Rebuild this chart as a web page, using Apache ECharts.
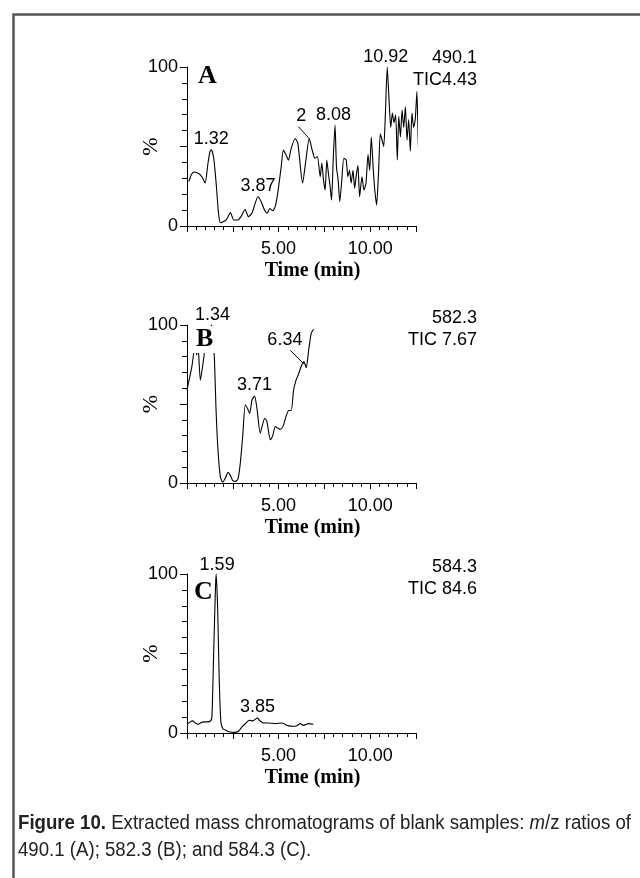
<!DOCTYPE html>
<html><head><meta charset="utf-8">
<script src="https://cdn.jsdelivr.net/npm/echarts@6/dist/echarts.min.js"></script>
<style>html,body{margin:0;padding:0;background:#fff}#c{width:640px;height:878px}</style>
</head><body><div id="c"></div>
<script>
// ---------- data ----------
const timesA = [0.10,0.23,0.37,0.55,0.74,0.86,0.99,1.14,1.25,1.33,1.46,1.59,1.72,1.83,1.97,2.14,2.37,2.55,2.77,2.95,3.17,3.35,3.54,3.72,3.87,4.05,4.23,4.37,4.52,4.68,4.81,4.95,5.14,5.26,5.41,5.54,5.68,5.90,6.05,6.31,6.49,6.67,6.85,6.98,7.12,7.27,7.36,7.45,7.54,7.63,7.72,7.81,7.89,7.98,8.08,8.16,8.25,8.34,8.45,8.56,8.69,8.78,8.87,8.96,9.06,9.15,9.24,9.33,9.42,9.55,9.66,9.77,9.88,9.97,10.06,10.17,10.26,10.35,10.46,10.55,10.65,10.74,10.83,10.93,11.03,11.12,11.21,11.30,11.39,11.48,11.56,11.65,11.74,11.83,11.92,12.01,12.10,12.19,12.28,12.37,12.46,12.55,12.62,12.66];
const valuesA = [28,32,34,33.5,32,30,27,39,46.7,48,42.5,27,8,2,2.7,3.8,8.4,3.8,3.8,5.9,10.5,5.9,8,14.2,18.4,15.3,10,8,11,9.6,12,20.5,37,47.7,44.6,41.4,48.5,55,52,27,41.5,55,47,42.6,43.7,31,39.6,29,22.6,41.5,33,25,16.4,41.5,63.5,37,29,15.3,29,42.6,41.5,31,35,27,35,23.7,32,38,18.4,31,22.6,27,45,35,56,35,21.5,13.2,35,58,54,50,71,100,79,62,71,65,70,41.5,69,56,73,62,75,54,67,47,71,62,67,84.5,54,42.6];

const timesB = [0.00,0.13,0.27,0.40,0.47,0.53,0.60,0.73,0.90,1.04,1.20,1.34,1.42,1.50,1.58,1.69,1.82,1.95,2.09,2.24,2.36,2.49,2.64,2.78,2.91,3.04,3.18,3.31,3.42,3.55,3.69,3.82,4.00,4.24,4.36,4.55,4.67,4.82,4.96,5.11,5.27,5.40,5.55,5.69,5.82,5.95,6.09,6.24,6.38,6.51,6.64,6.78,6.91];
const valuesB = [59,66,74,85,88,81,87,65,78,90,96,100,92,78,48,21,4,0.4,3,6.7,5,1.7,1,2.5,12.6,29.5,49.5,47,44,52.6,55,47,31.6,41,39,27.4,29.5,35.8,34.7,34,36.8,42,45.9,45.9,59,65,69,74,76.8,73,84,94.7,97.3];

const timesC = [0.05,0.18,0.31,0.45,0.60,0.73,0.91,1.09,1.27,1.36,1.45,1.55,1.59,1.67,1.76,1.85,1.96,2.13,2.36,2.60,2.82,3.00,3.22,3.40,3.58,3.85,3.95,4.18,4.45,4.82,5.18,5.45,5.82,6.00,6.18,6.36,6.64,6.90];
const valuesC = [5.9,7,7.6,6.3,5.5,6.3,7,7,7.4,10,48,90,100,79.6,33,7,2.7,1.7,0.6,0.4,1.3,3.8,6.3,8,7.6,9.5,8,6.3,6.3,5.9,6.3,4.8,4.2,4.6,5.9,4.8,5.9,5.5];

const peakTextA = ['1.32','3.87','2','8.08','10.92'];
const peakTimeA = [1.32,3.87,6.67,8.08,10.93];
const peakValA  = [48,18.4,55,63.5,100];
const peakTextB = ['1.34','3.71','6.34'];
const peakTimeB = [1.34,3.69,6.38];
const peakValB  = [100,55,76.8];
const peakTextC = ['1.59','3.85'];
const peakTimeC = [1.59,3.85];
const peakValC  = [100,9.5];

const leaderA = [[6.08,62.5],[6.67,55]];
const leaderB = [[5.64,84],[6.37,75.4]];

const panelLetters = ['A','B','C'];
const massLabels = ['490.1','582.3','584.3'];
const ticLabels = ['TIC4.43','TIC 7.67','TIC 84.6'];
const xLabelValues = [5,10];
const yLabelValues = [0,100];
const xAxisName = 'Time (min)';
const yAxisName = '%';
const captionBold = 'Figure 10.';
const captionText1 = ' Extracted mass chromatograms of blank samples: ';
const captionItalic = 'm';
const captionText2 = '/z ratios of';
const captionLine2 = '490.1 (A); 582.3 (B); and 584.3 (C).';

// ---------- chart ----------
const SANS = 'Liberation Sans';
const SERIF = 'Liberation Serif';
const grids = [
  {left:187, top:67, width:229, height:159},
  {left:187, top:325, width:229, height:158},
  {left:187, top:574, width:229, height:159}
];

function xAxisFor(i){
  return {
    type:'value', gridIndex:i, min:0, max:12.5, interval:2.5,
    axisLine:{show:true, onZero:false, lineStyle:{color:'#000', width:1}},
    axisTick:{show:true, length:6, lineStyle:{color:'#000', width:1}},
    minorTick:{show:true, splitNumber:5, length:4, lineStyle:{color:'#000', width:1}},
    splitLine:{show:false}, minorSplitLine:{show:false},
    axisLabel:{show:true, margin:14, color:'#000', fontFamily:SANS, fontSize:18,
      formatter:v => xLabelValues.indexOf(v) >= 0 ? v.toFixed(2) : ''},
    name:xAxisName, nameLocation:'middle', nameGap:35, nameMoveOverlap:false,
    nameTextStyle:{fontFamily:SERIF, fontWeight:'bold', fontSize:20, color:'#000', padding:[0,0,0,22]}
  };
}
function yAxisFor(i){
  return {
    type:'value', gridIndex:i, min:0, max:100, interval:50,
    axisLine:{show:true, onZero:false, lineStyle:{color:'#000', width:1}},
    axisTick:{show:true, length:7, lineStyle:{color:'#000', width:1}},
    minorTick:{show:true, splitNumber:5, length:5, lineStyle:{color:'#000', width:1}},
    splitLine:{show:false}, minorSplitLine:{show:false},
    axisLabel:{show:true, margin:9, color:'#000', fontFamily:SANS, fontSize:18,
      formatter:v => yLabelValues.indexOf(v) >= 0 ? String(v) : ''},
    name:yAxisName, nameLocation:'middle', nameGap:25, nameRotate:90, nameMoveOverlap:false,
    nameTextStyle:{fontFamily:SERIF, fontSize:22, color:'#000'}
  };
}
function pairs(t, v){ return t.map((x, k) => [x, v[k]]); }
function peakMarks(texts, times, vals, offsets){
  return {
    symbol:'circle', symbolSize:1, silent:true, animation:false,
    itemStyle:{color:'rgba(0,0,0,0)'},
    label:{show:true, position:'inside', color:'#000', fontFamily:SANS, fontSize:18, formatter:'{b}'},
    data: texts.map((s, k) => ({name:s, coord:[times[k], vals[k]], label:{offset:offsets[k]}}))
  };
}
function leader(seg){
  return {
    symbol:['none','none'], silent:true, animation:false,
    label:{show:false}, lineStyle:{color:'#000', width:1, type:'solid'},
    data:[[{coord:seg[0]},{coord:seg[1]}]]
  };
}
function lineSeries(i, t, v, mp, ml){
  const s = {
    type:'line', xAxisIndex:i, yAxisIndex:i, data:pairs(t, v),
    showSymbol:false, symbol:'none', smooth:0.2, clip:false, animation:false,
    lineStyle:{color:'#000', width:1.1}, markPoint:mp
  };
  if (ml) s.markLine = ml;
  return s;
}

const letterStyle = {fontFamily:SERIF, fontWeight:'bold', fontSize:26, lineHeight:26, color:'#000'};
const letterPos = [{left:198, top:63}, {left:193, top:326}, {left:194, top:579}];
const massTop = [47, 307, 556];

const titles = [];
panelLetters.forEach((L, i) => {
  const t = Object.assign({text:L, padding:0, textStyle:letterStyle}, letterPos[i]);
  if (i === 1) { t.backgroundColor = '#fff'; t.padding = [0,3,1,3]; }
  titles.push(t);
});

// caption width fitting (condensed look)
const CAP_FS = 20;
const mctx = document.createElement('canvas').getContext('2d');
function mw(font, s){ mctx.font = font; return mctx.measureText(s).width; }
const capW = mw('bold ' + CAP_FS + 'px "' + SANS + '"', captionBold)
  + mw(CAP_FS + 'px "' + SANS + '"', captionText1 + captionText2)
  + mw('italic ' + CAP_FS + 'px "' + SANS + '"', captionItalic);
const capScale = 613 / capW;

const graphics = [
  {type:'rect', left:11, top:12, z:0, silent:true,
    shape:{x:0, y:0, width:700, height:900},
    style:{fill:'none', stroke:'#555', lineWidth:2.5}},
  {type:'text', x:18, y:810, scaleX:capScale, silent:true,
    style:{
      text:'{b|' + captionBold + '}{n|' + captionText1 + '}{i|' + captionItalic + '}{n|' + captionText2 + '}\n{n|' + captionLine2 + '}',
      rich:{
        b:{fontFamily:SANS, fontWeight:'bold', fontSize:CAP_FS, lineHeight:27, fill:'#222'},
        n:{fontFamily:SANS, fontSize:CAP_FS, lineHeight:27, fill:'#222'},
        i:{fontFamily:SANS, fontStyle:'italic', fontSize:CAP_FS, lineHeight:27, fill:'#222'}
      },
      fontFamily:SANS, fontSize:CAP_FS, lineHeight:27, fill:'#222'
    }}
];
massLabels.forEach((m, i) => {
  graphics.push({type:'text', x:477, y:massTop[i], silent:true, z:10,
    style:{text:m + '\n' + ticLabels[i], align:'right', verticalAlign:'top',
      fontFamily:SANS, fontSize:18, lineHeight:22, fill:'#000'}});
});

const option = {
  backgroundColor:'#fff',
  animation:false,
  title: titles,
  grid: grids.map(g => Object.assign({outerBoundsMode:'none', containLabel:false}, g)),
  xAxis: [0,1,2].map(xAxisFor),
  yAxis: [0,1,2].map(yAxisFor),
  series: [
    lineSeries(0, timesA, valuesA,
      peakMarks(peakTextA, peakTimeA, peakValA, [[0,-11],[0,-11],[-8,-23],[-1.5,-10],[-1.5,-10]]),
      leader(leaderA)),
    lineSeries(1, timesB, valuesB,
      peakMarks(peakTextB, peakTimeB, peakValB, [[1,-10],[0,-11],[-19,-22]]),
      leader(leaderB)),
    lineSeries(2, timesC, valuesC,
      peakMarks(peakTextC, peakTimeC, peakValC, [[1,-9],[0,-11]]), null)
  ],
  graphic: graphics
};
const chart = echarts.init(document.getElementById('c'), null, {renderer:'canvas'});
chart.setOption(option);
</script>
</body></html>
